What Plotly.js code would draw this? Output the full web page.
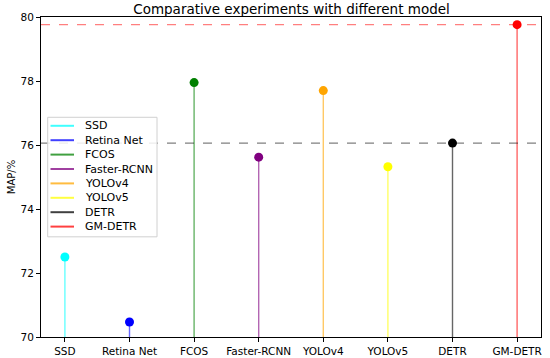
<!DOCTYPE html>
<html>
<head>
<meta charset="utf-8">
<script src="https://cdn.plot.ly/plotly-3.0.1.min.js"></script>
<style>html,body{margin:0;padding:0;background:#fff;}#chart{width:550px;height:358px;}</style>
</head>
<body>
<div id="chart"></div>
<script>
const models = ["SSD", "Retina Net", "FCOS", "Faster-RCNN", "YOLOv4", "YOLOv5", "DETR", "GM-DETR"];
const mapValues = [72.5, 70.47, 77.95, 75.62, 77.7, 75.32, 76.06, 79.76];
const colors = ["#00ffff", "#0000ff", "#008000", "#800080", "#ffa500", "#ffff00", "#000000", "#ff0000"];
const baseline = 70;
const yTicks = [70, 72, 74, 76, 78, 80];

function rgba(hex, a) {
  const r = parseInt(hex.slice(1, 3), 16), g = parseInt(hex.slice(3, 5), 16), b = parseInt(hex.slice(5, 7), 16);
  return `rgba(${r},${g},${b},${a})`;
}

const traces = [];
models.forEach((m, i) => {
  traces.push({
    x: [m, m], y: [baseline, mapValues[i]],
    type: "scatter", mode: "lines", name: m, showlegend: false,
    line: {color: rgba(colors[i], 0.6), width: 1.4},
    hoverinfo: "skip"
  });
});
models.forEach((m, i) => {
  traces.push({
    x: [m], y: [mapValues[i]],
    type: "scatter", mode: "markers", showlegend: false,
    marker: {color: colors[i], size: 9}
  });
});

const detrVal = mapValues[models.indexOf("DETR")];
const gmVal = mapValues[models.indexOf("GM-DETR")];

// custom compact legend (matplotlib style), paper coordinates
const legTop = 0.660, legStep = 0.045;
const shapes = [
  {type: "line", xref: "paper", x0: 0, x1: 1, yref: "y", y0: gmVal, y1: gmVal,
   line: {color: "rgba(255,0,0,0.5)", width: 1.3, dash: "dash"}},
  {type: "line", xref: "paper", x0: 0, x1: 1, yref: "y", y0: detrVal, y1: detrVal,
   line: {color: "rgba(0,0,0,0.5)", width: 1.3, dash: "dash"}},
  {type: "rect", xref: "paper", yref: "paper", x0: 0.0134, x1: 0.232, y0: 0.313, y1: 0.6866,
   fillcolor: "rgba(255,255,255,0.85)", line: {color: "#d0d0d0", width: 1}, layer: "above"}
];
const annotations = [];
models.forEach((m, i) => {
  const yy = legTop - i * legStep;
  shapes.push({type: "line", xref: "paper", yref: "paper", x0: 0.019, x1: 0.066, y0: yy, y1: yy,
    line: {color: rgba(colors[i], 0.75), width: 2}, layer: "above"});
  annotations.push({xref: "paper", yref: "paper", x: 0.083, y: yy, xanchor: "left", yanchor: "middle",
    text: m, showarrow: false, font: {size: 11, color: "#000"}});
});

const layout = {
  width: 550, height: 358,
  margin: {l: 41, r: 9, t: 17, b: 21},
  paper_bgcolor: "#fff", plot_bgcolor: "#fff",
  font: {family: "DejaVu Sans", size: 10, color: "#000"},
  title: {text: "Comparative experiments with different model", font: {size: 13.5, color: "#000"}, x: 0.53, xanchor: "center", y: 0.988, yanchor: "top"},
  showlegend: false,
  xaxis: {
    type: "category", categoryorder: "array", categoryarray: models,
    range: [-0.37, 7.37], showgrid: false, zeroline: false,
    showline: true, mirror: true, linecolor: "#000", linewidth: 1,
    ticks: "outside", ticklen: 4, tickcolor: "#000", tickfont: {size: 10.5}
  },
  yaxis: {
    range: [70, 80], tickvals: yTicks, showgrid: false, zeroline: false,
    showline: true, mirror: true, linecolor: "#000", linewidth: 1,
    ticks: "outside", ticklen: 4, tickcolor: "#000", tickfont: {size: 10.5},
    title: {text: "MAP/%", font: {size: 10}, standoff: 3}
  },
  shapes: shapes,
  annotations: annotations
};

Plotly.newPlot("chart", traces, layout, {displayModeBar: false, staticPlot: true});
</script>
</body>
</html>
